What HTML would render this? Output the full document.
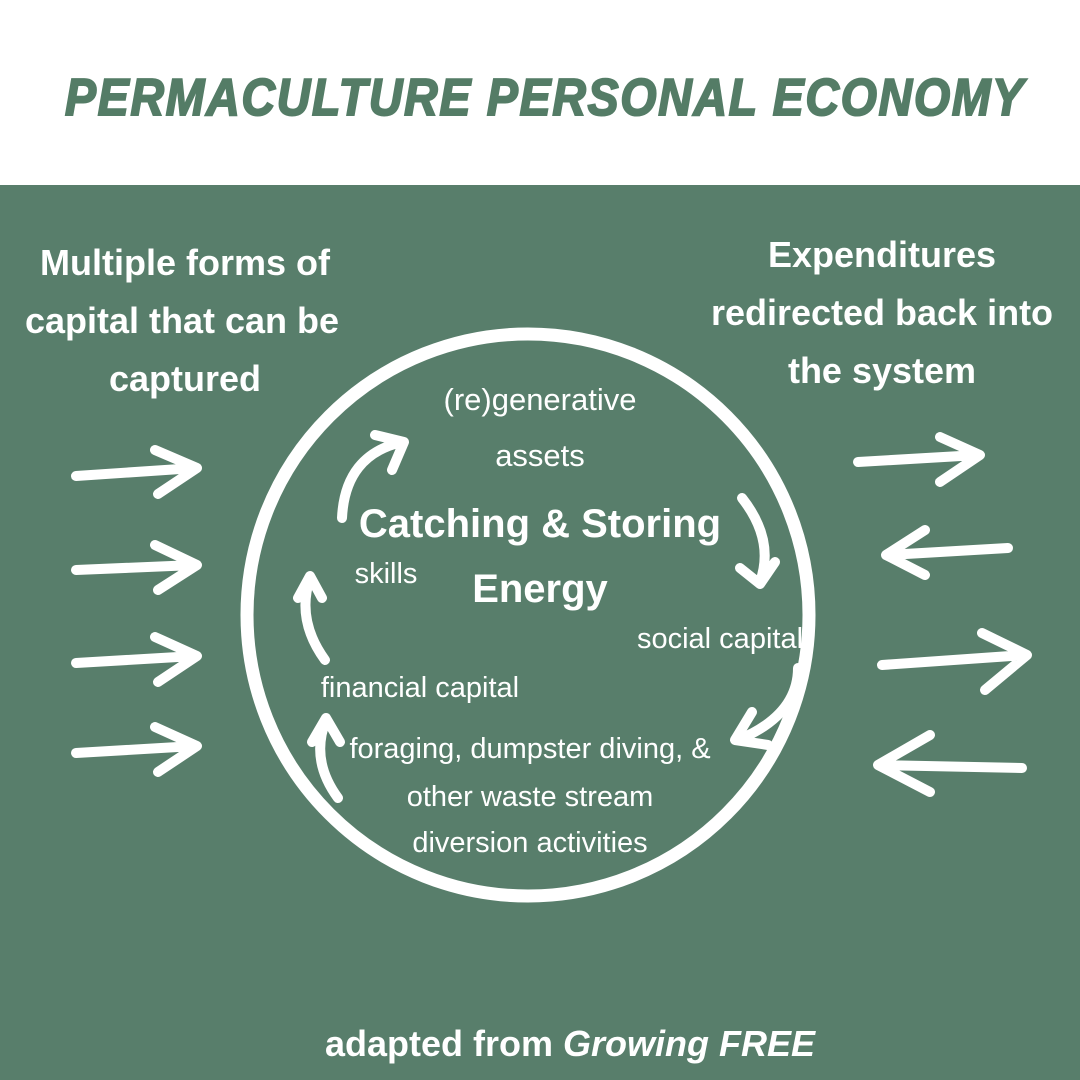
<!DOCTYPE html>
<html><head><style>
body{margin:0;width:1080px;height:1080px;overflow:hidden;background:#fff}
svg{display:block}
text{fill:#fff}
.b{font-family:"Liberation Sans Narrow","Liberation Sans",sans-serif;font-weight:bold}
.r{font-family:"Liberation Sans Narrow","Liberation Sans",sans-serif}
</style></head><body>
<svg width="1080" height="1080" viewBox="0 0 1080 1080">
<rect x="0" y="0" width="1080" height="185" fill="#fff"/>
<text x="545" y="115" text-anchor="middle" style="fill:#547c66;stroke:#547c66;stroke-width:2;font-family:'Liberation Sans',sans-serif;font-weight:bold;font-style:italic;font-size:52px;letter-spacing:2px" textLength="960" lengthAdjust="spacingAndGlyphs">PERMACULTURE PERSONAL ECONOMY</text>
<rect x="0" y="185" width="1080" height="895" fill="#587e6b"/>
<g class="b" font-size="36" text-anchor="middle">
<text x="185" y="275">Multiple forms of</text>
<text x="182" y="333">capital that can be</text>
<text x="185" y="391">captured</text>
<text x="882" y="267">Expenditures</text>
<text x="882" y="325">redirected back into</text>
<text x="882" y="383">the system</text>
<text x="570" y="1056">adapted from <tspan font-style="italic">Growing FREE</tspan></text>
<text x="540" y="537" font-size="40">Catching &amp; Storing</text>
<text x="540" y="602" font-size="40">Energy</text>
</g>
<circle cx="528" cy="615" r="281" fill="none" stroke="#fff" stroke-width="13"/>
<g class="r" font-size="31" text-anchor="middle">
<text x="540" y="410">(re)generative</text>
<text x="540" y="466">assets</text>
<text x="386" y="583" font-size="29">skills</text>
<text x="720" y="648" font-size="29">social capital</text>
<text x="420" y="697" font-size="29">financial capital</text>
<text x="530" y="758" font-size="29">foraging, dumpster diving, &amp;</text>
<text x="530" y="806" font-size="29">other waste stream</text>
<text x="530" y="852" font-size="29">diversion activities</text>
</g>
<g fill="none" stroke="#fff" stroke-width="10" stroke-linecap="round" stroke-linejoin="round">
<path d="M76 476 L195 468 M155 450 L197 468 L158 494"/>
<path d="M76 570 L195 565 M155 545 L197 565 L158 590"/>
<path d="M76 663 L195 656 M155 637 L197 656 L158 682"/>
<path d="M76 753 L195 746 M155 727 L197 746 L158 772"/>
<path d="M858 462 L978 455 M940 437 L980 455 L940 482"/>
<path d="M1008 548 L888 555 M925 530 L886 555 L925 575"/>
<path d="M882 665 L1025 655 M982 633 L1027 655 L985 690"/>
<path d="M1022 768 L880 765 M930 735 L878 765 L930 792"/>
<path d="M342 518 Q345 455 402 442 M375 435 L404 442 L392 470"/>
<path d="M742 498 Q775 540 760 582 M740 568 L760 584 L775 562"/>
<path d="M798 668 Q798 715 738 740 M752 712 L735 740 L768 745"/>
<path d="M338 798 Q310 760 326 720 M312 742 L326 718 L340 742"/>
<path d="M325 660 Q296 620 310 578 M298 598 L310 576 L322 598"/>
</g>
</svg>
</body></html>
